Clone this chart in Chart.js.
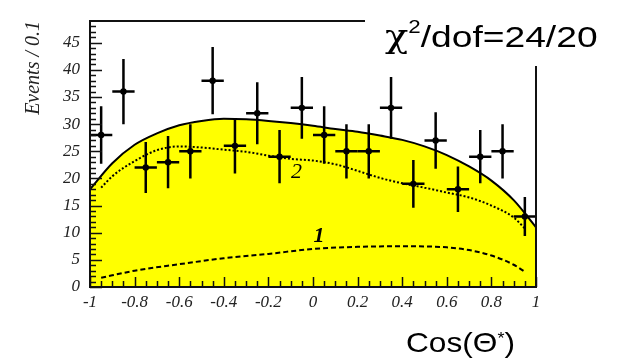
<!DOCTYPE html>
<html>
<head>
<meta charset="utf-8">
<script src="https://cdn.jsdelivr.net/npm/chart.js@4.4.0/dist/chart.umd.min.js"></script>
<style>
  html, body { margin: 0; padding: 0; background: #fff; }
  #fitChart { display: block; }
</style>
</head>
<body>
<canvas id="fitChart" width="618" height="361"></canvas>
<script>
// measured points, 0.1 wide bins
var binCenters = [-0.95, -0.85, -0.75, -0.65, -0.55, -0.45, -0.35, -0.25, -0.15, -0.05,
                  0.05, 0.15, 0.25, 0.35, 0.45, 0.55, 0.65, 0.75, 0.85, 0.95];
var eventCounts = [28, 36, 22, 23, 25, 38, 26, 32, 24, 33, 28, 25, 25, 33, 19, 27, 18, 24, 25, 13];
var countErrors = [5.3, 6.0, 4.7, 4.8, 5.0, 6.2, 5.1, 5.7, 4.9, 5.7, 5.3, 5.0, 5.0, 5.7, 4.4, 5.2, 4.2, 4.9, 5.0, 3.6];
var binHalfWidth = 0.05;

// total fit (solid, filled)
var totalX = [-1, -0.9, -0.8, -0.7, -0.6, -0.5, -0.4, -0.3, -0.2, -0.1, 0,
              0.1, 0.2, 0.3, 0.4, 0.5, 0.6, 0.7, 0.8, 0.9, 1];
var totalFit = [18, 22.8, 26.2, 28.3, 29.8, 30.6, 31.0, 30.9, 30.6, 30.2, 29.7,
                29.1, 28.6, 27.9, 27.1, 25.9, 24.3, 22.2, 19.6, 16.0, 11.0];

// component 2 (dotted)
var comp2X = [-0.95, -0.9, -0.8, -0.7, -0.6, -0.5, -0.4, -0.3, -0.2, -0.1, 0,
              0.1, 0.2, 0.3, 0.4, 0.5, 0.6, 0.7, 0.8, 0.9, 0.95];
var comp2Fit = [18.3, 20.4, 23.2, 25.2, 25.9, 25.7, 25.3, 24.9, 24.2, 23.6, 23.3,
                22.6, 21.4, 20.1, 19.1, 18.3, 17.4, 16.5, 15.0, 12.8, 10.8];

// component 1 (dashed)
var comp1X = [-0.95, -0.8, -0.6, -0.4, -0.2, 0, 0.2, 0.4, 0.6, 0.7, 0.8, 0.9, 0.95];
var comp1Fit = [1.7, 3.0, 4.2, 5.3, 6.1, 7.0, 7.4, 7.5, 7.3, 6.8, 5.8, 4.1, 2.8];

var xTicks = [-1, -0.8, -0.6, -0.4, -0.2, 0, 0.2, 0.4, 0.6, 0.8, 1];
var yTicks = [0, 5, 10, 15, 20, 25, 30, 35, 40, 45];

function pairs(xs, ys) {
    return xs.map(function (x, i) { return { x: x, y: ys[i] }; });
}

// draws text stretched horizontally, parts = [text, size, raise, family]
function drawParts(ctx, parts, x, baseline, sx) {
    ctx.save();
    ctx.translate(x, baseline);
    ctx.scale(sx, 1);
    var cx = 0;
    parts.forEach(function (p) {
        ctx.font = p[1] + 'px ' + (p[3] || '"Liberation Sans", Arial, sans-serif');
        ctx.fillText(p[0], cx, -p[2]);
        cx += ctx.measureText(p[0]).width;
    });
    ctx.restore();
}

var frameAndNotes = {
    id: 'frameAndNotes',
    afterDatasetsDraw: function (chart) {
        var ctx = chart.ctx, xs = chart.scales.x, ys = chart.scales.y;
        ctx.save();
        ctx.strokeStyle = '#000';
        ctx.lineWidth = 2.5;
        binCenters.forEach(function (c, i) {
            var px = xs.getPixelForValue(c);
            var py = ys.getPixelForValue(eventCounts[i]);
            ctx.beginPath();
            ctx.moveTo(px, ys.getPixelForValue(eventCounts[i] - countErrors[i]));
            ctx.lineTo(px, ys.getPixelForValue(eventCounts[i] + countErrors[i]));
            ctx.moveTo(xs.getPixelForValue(c - binHalfWidth), py);
            ctx.lineTo(xs.getPixelForValue(c + binHalfWidth), py);
            ctx.stroke();
        });
        ctx.restore();
    },
    afterDraw: function (chart) {
        var ctx = chart.ctx, xs = chart.scales.x, ys = chart.scales.y, a = chart.chartArea;
        ctx.save();
        ctx.strokeStyle = '#111';

        // inward ticks
        ctx.lineWidth = 1.5;
        ctx.beginPath();
        for (var v = 0; v <= 48; v++) {
            var py = Math.round(ys.getPixelForValue(v)) + 0.5;
            ctx.moveTo(a.left, py);
            ctx.lineTo(a.left + (v % 5 === 0 ? 12 : 6), py);
        }
        for (var k = 0; k <= 40; k++) {
            var px = Math.round(xs.getPixelForValue(-1 + k * 0.05)) + 0.5;
            ctx.moveTo(px, a.bottom);
            ctx.lineTo(px, a.bottom - (k % 4 === 0 ? 10 : 6));
        }
        ctx.stroke();

        // frame
        ctx.lineWidth = 2;
        ctx.strokeRect(a.left, a.top, a.right - a.left, a.bottom - a.top);

        // white patch behind the chi2 note
        ctx.fillStyle = '#fff';
        ctx.fillRect(365, 0, 253, 66);

        ctx.fillStyle = '#000';
        ctx.textBaseline = 'alphabetic';
        drawParts(ctx, [['\u03c7', 31, 0, '"DejaVu Serif", serif'], ['2', 18, 14], ['/dof=24/20', 30, 0]], 385, 47, 1.24);
        drawParts(ctx, [['Cos(\u0398', 28, 0], ['*', 16, 8], [')', 28, 0]], 406, 352, 1.13);

        // curve labels
        ctx.textAlign = 'center';
        ctx.textBaseline = 'middle';
        ctx.font = 'italic 22px "Liberation Serif", serif';
        ctx.fillText('2', xs.getPixelForValue(-0.074), ys.getPixelForValue(21.2));
        ctx.font = 'italic bold 22px "Liberation Serif", serif';
        ctx.fillText('1', xs.getPixelForValue(0.027), ys.getPixelForValue(9.4));
        ctx.restore();
    }
};

var tickFont = { family: '"Liberation Serif", serif', style: 'italic', size: 17 };

new Chart("fitChart", {
    type: "scatter",
    data: {
        datasets: [{
            label: "data",
            data: pairs(binCenters, eventCounts),
            pointRadius: 3.2,
            pointBackgroundColor: "#000",
            pointBorderColor: "#000",
            pointBorderWidth: 0,
            order: 0
        }, {
            type: "line",
            label: "component 1",
            data: pairs(comp1X, comp1Fit),
            borderColor: "#000",
            borderWidth: 2,
            borderDash: [5, 3],
            pointRadius: 0,
            cubicInterpolationMode: "monotone",
            fill: false,
            order: 1
        }, {
            type: "line",
            label: "component 2",
            data: pairs(comp2X, comp2Fit),
            borderColor: "#000",
            borderWidth: 2,
            borderDash: [2, 2],
            pointRadius: 0,
            cubicInterpolationMode: "monotone",
            fill: false,
            order: 2
        }, {
            type: "line",
            label: "total",
            data: pairs(totalX, totalFit),
            borderColor: "#000",
            borderWidth: 2,
            backgroundColor: "#ffff00",
            pointRadius: 0,
            cubicInterpolationMode: "monotone",
            fill: "origin",
            order: 3
        }]
    },
    options: {
        responsive: false,
        animation: false,
        devicePixelRatio: 1,
        layout: { padding: { top: 21, right: 82, left: 0, bottom: 0 } },
        plugins: {
            legend: { display: false },
            tooltip: { enabled: false }
        },
        scales: {
            x: {
                type: "linear",
                min: -1,
                max: 1,
                grid: { display: false, drawTicks: false },
                border: { display: false },
                afterBuildTicks: function (scale) {
                    scale.ticks = xTicks.map(function (v) { return { value: v }; });
                },
                afterFit: function (scale) { scale.height = 74; },
                ticks: {
                    color: "#222",
                    font: tickFont,
                    padding: 5,
                    maxRotation: 0,
                    autoSkip: false,
                    callback: function (v) { return String(Math.round(v * 10) / 10); }
                }
            },
            y: {
                min: 0,
                max: 49,
                grid: { display: false, drawTicks: false },
                border: { display: false },
                afterBuildTicks: function (scale) {
                    scale.ticks = yTicks.map(function (v) { return { value: v }; });
                },
                afterFit: function (scale) { scale.width = 90; },
                title: {
                    display: true,
                    text: "Events / 0.1",
                    align: "end",
                    color: "#222",
                    font: { family: '"Liberation Serif", serif', style: 'italic', size: 20 },
                    padding: { top: 22, bottom: 0 }
                },
                ticks: {
                    color: "#222",
                    font: tickFont,
                    padding: 10,
                    autoSkip: false
                }
            }
        }
    },
    plugins: [frameAndNotes]
});
</script>
</body>
</html>
